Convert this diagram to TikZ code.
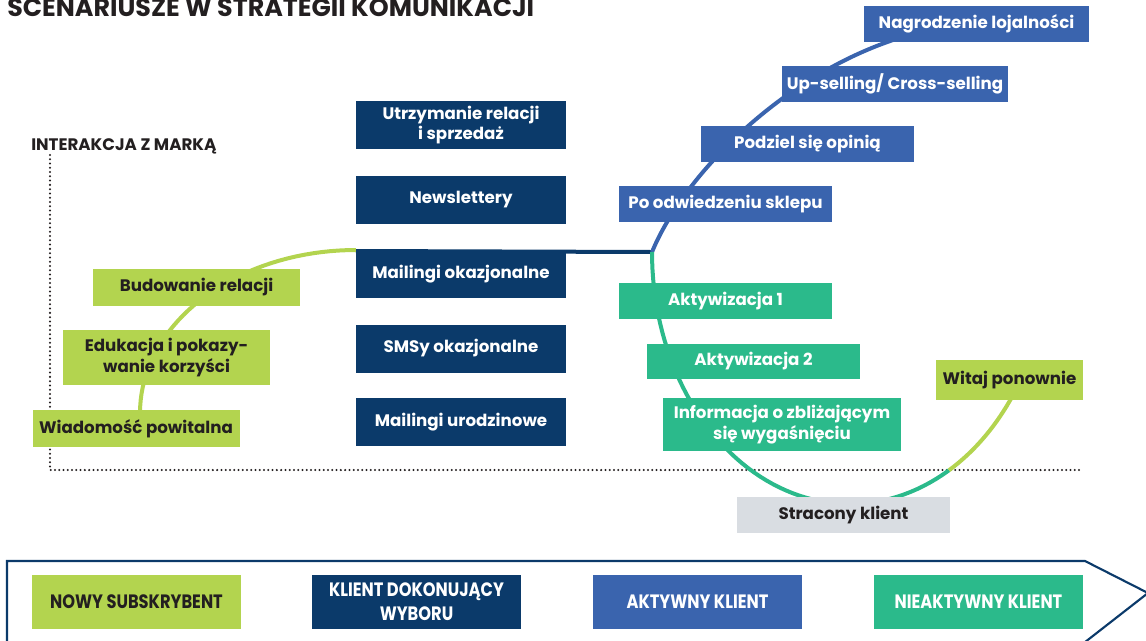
\documentclass[tikz,border=0pt]{standalone}
\usepackage{fontspec}
\setmainfont{Poppins}
\newfontfamily\narrowfont[FakeStretch=0.84]{Poppins}
\usepackage{tikz}

\definecolor{lime}{HTML}{B3D44F}
\definecolor{navy}{HTML}{0B3A6A}
\definecolor{steel}{HTML}{3A64AE}
\definecolor{mint}{HTML}{2BBA8B}
\definecolor{ash}{HTML}{D9DDE2}
\definecolor{ink}{HTML}{231F20}

\begin{document}
\begin{tikzpicture}[x=0.75pt,y=-0.75pt]
    \tikzstyle{stage}=[rectangle,inner sep=2pt,align=center,font=\bfseries\fontsize{12.5}{15.5}\selectfont]
    \tikzstyle{newbox}=[stage,fill=lime,text=ink,minimum width=155.25pt,minimum height=27.75pt]
    \tikzstyle{mailbox}=[stage,fill=navy,text=white,minimum width=157.5pt,minimum height=36pt]
    \tikzstyle{activebox}=[stage,fill=steel,text=white,minimum width=159.75pt,minimum height=27pt]
    \tikzstyle{sleepbox}=[stage,fill=mint,text=white,minimum width=159.75pt,minimum height=27pt]
    \tikzstyle{lostbox}=[stage,fill=ash,text=ink,minimum width=159.75pt,minimum height=27pt]
    \tikzstyle{phase}=[rectangle,align=center,minimum width=156.75pt,minimum height=40.5pt,font=\narrowfont\bfseries\fontsize{14.5}{18}\selectfont]
    \tikzstyle{axis}=[ink,line width=1.7pt,line cap=round,dash pattern=on 0pt off 3.2pt]
    \tikzstyle{track}=[line width=3pt]

    \useasboundingbox (0,0) rectangle (1146,640);

    % axes
    \draw[axis] (50,155) -- (50,470) -- (1080,470);

    % paths of the customer
    \coordinate (hub) at (652,252);
    \draw[track,lime] (140,430) -- plot[domain=180:270,samples=40] ({356+216*cos(\x)},{413+163*sin(\x)});
    \draw[track,navy] (356,251) -- (hub);
    \draw[track,steel] (hub) .. controls (690,160) and (820,40) .. (960,25);
    \draw[track,mint] (hub) -- plot[domain=180:60,samples=60] ({850+198*cos(\x)},{252+252*sin(\x)});
    \draw[track,lime] plot[domain=60:32,samples=20] ({850+198*cos(\x)},{252+252*sin(\x)});

    % titles
    \node[anchor=base west,inner sep=0,text=ink,font=\bfseries\fontsize{19}{22}\selectfont] (title) at (7,16) {SCENARIUSZE W STRATEGII KOMUNIKACJI};
    \node[anchor=base west,inner sep=0,text=ink,font=\bfseries\fontsize{12.5}{14}\selectfont] (ylabel) at (31,150) {INTERAKCJA Z MARKĄ};

    % new subscriber
    \node[newbox] (welcome) at (136,428.5) {Wiadomość powitalna};
    \node[newbox,minimum height=41.25pt] (edu) at (166.5,357.5) {Edukacja i pokazy-\\wanie korzyści};
    \node[newbox] (build) at (196.5,287.5) {Budowanie relacji};

    % deciding client
    \node[mailbox] (keep) at (461,125) {Utrzymanie relacji\\i sprzedaż};
    \node[mailbox] (news) at (461,199.5) {Newslettery};
    \node[mailbox] (mail) at (461,274) {Mailingi okazjonalne};
    \node[mailbox] (sms) at (461,348.5) {SMSy okazjonalne};
    \node[mailbox] (bday) at (461,422) {Mailingi urodzinowe};

    % active client
    \node[activebox] (visit) at (725.5,204) {Po odwiedzeniu sklepu};
    \node[activebox] (review) at (807.5,144) {Podziel się opinią};
    \node[activebox,minimum width=169.5pt] (upsell) at (895,84) {Up-selling/ Cross-selling};
    \node[activebox,minimum width=168.75pt] (loyal) at (976.5,24) {Nagrodzenie lojalności};

    % inactive client
    \node[sleepbox] (act1) at (725.5,301) {Aktywizacja 1};
    \node[sleepbox,minimum height=26.25pt] (act2) at (753.5,361.5) {Aktywizacja 2};
    \node[sleepbox,minimum width=178.5pt,minimum height=39.75pt] (expiry) at (782,424.5) {Informacja o zbliżającym\\się wygaśnięciu};
    \node[lostbox] (lost) at (843.5,515) {Stracony klient};
    \node[newbox,minimum width=110.25pt,minimum height=30pt] (again) at (1009.5,380) {Witaj ponownie};

    % stages
    \draw[navy,line width=1.6pt] (7,650) -- (7,561) -- (1085,561) -- (1148,593) -- (1080,646);
    \node[phase,fill=lime,text=ink] (subscriber) at (136.5,602) {NOWY SUBSKRYBENT};
    \node[phase,fill=navy,text=white] (decider) at (416.5,602) {KLIENT DOKONUJĄCY\\WYBORU};
    \node[phase,fill=steel,text=white] (active) at (697.5,602) {AKTYWNY KLIENT};
    \node[phase,fill=mint,text=white] (inactive) at (978.5,602) {NIEAKTYWNY KLIENT};
\end{tikzpicture}
\end{document}
